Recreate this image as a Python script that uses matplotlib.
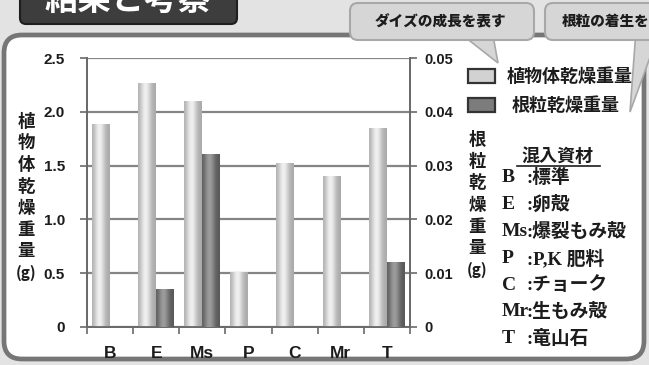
import numpy as np
import matplotlib
matplotlib.use("Agg")
import matplotlib.pyplot as plt
from matplotlib.patches import FancyBboxPatch, Rectangle, Polygon
from matplotlib.ticker import FixedLocator, NullFormatter

plt.rcParams["font.family"] = ["Noto Sans CJK JP", "DejaVu Sans"]

# ---- data -------------------------------------------------------------
categories = ["B", "E", "Ms", "P", "C", "Mr", "T"]
plant_dry_weight = [1.89, 2.27, 2.10, 0.51, 1.52, 1.40, 1.85]          # g
nodule_dry_weight = [0.0, 0.0071, 0.0321, 0.0, 0.0, 0.0, 0.012]       # g
left_ticks = [0, 0.5, 1.0, 1.5, 2.0, 2.5]
left_tick_labels = ["0", "0.5", "1.0", "1.5", "2.0", "2.5"]
right_ticks = [0, 0.01, 0.02, 0.03, 0.04, 0.05]
right_tick_labels = ["0", "0.01", "0.02", "0.03", "0.04", "0.05"]
legend_labels = ["植物体乾燥重量", "根粒乾燥重量"]
left_axis_label = ["植", "物", "体", "乾", "燥", "重", "量", "(g)"]
right_axis_label = ["根", "粒", "乾", "燥", "重", "量", "(g)"]
material_codes = ["B", "E", "Ms", "P", "C", "Mr", "T"]
material_names = ["標準", "卵殻", "爆裂もみ殻", "P,K 肥料", "チョーク", "生もみ殻", "竜山石"]

# ---- styling ----------------------------------------------------------
W, H = 649, 365
PLANT_FACE = "#d2d2d2"
NODULE_FACE = "#7c7c7c"
TXT = "#1c1c1c"
GRID = "#858585"

fig = plt.figure(figsize=(W / 100, H / 100), dpi=100)
fig.patch.set_facecolor("#e3e3e3")

# pixel-space canvas for the poster decoration and side texts
bg = fig.add_axes([0, 0, 1, 1])
bg.set_xlim(0, W)
bg.set_ylim(H, 0)
bg.axis("off")
bg.set_zorder(0)

# white panel with rounded grey frame
bg.add_patch(FancyBboxPatch((4, 35), 640, 324,
                            boxstyle="round,pad=0,rounding_size=18",
                            facecolor="white", edgecolor="#767676", lw=3.4))

# section heading
bg.add_patch(FancyBboxPatch((20, -20), 217, 44,
                            boxstyle="round,pad=0,rounding_size=6",
                            facecolor="#3d3d3d", edgecolor="#1e1e1e", lw=1.5))
bg.text(128, 0, "結果と考察", color="white", fontsize=24, fontweight="bold",
        ha="center", va="center")

# speech-bubble notes
CALLOUT_FACE, CALLOUT_EDGE = "#d6d6d6", "#a8a8a8"
bg.add_patch(Polygon([(456, 30), (492, 30), (498, 63)], closed=True,
                     facecolor=CALLOUT_FACE, edgecolor=CALLOUT_EDGE, lw=1.2, zorder=2))
bg.add_patch(FancyBboxPatch((350, 3), 184, 37, boxstyle="round,pad=0,rounding_size=8",
                            facecolor=CALLOUT_FACE, edgecolor=CALLOUT_EDGE, lw=1.5, zorder=3))
bg.text(440, 22, "ダイズの成長を表す", fontsize=10.5, fontweight="heavy",
        color=TXT, ha="center", va="center", zorder=4)
bg.add_patch(Polygon([(636, 30), (660, 30), (630, 112)], closed=True,
                     facecolor=CALLOUT_FACE, edgecolor=CALLOUT_EDGE, lw=1.2, zorder=2))
bg.add_patch(FancyBboxPatch((545, 3), 130, 37, boxstyle="round,pad=0,rounding_size=8",
                            facecolor=CALLOUT_FACE, edgecolor=CALLOUT_EDGE, lw=1.5, zorder=3))
bg.text(562, 22, "根粒の着生を表す", fontsize=10.5, fontweight="heavy",
        color=TXT, ha="left", va="center", zorder=4, clip_on=True)

# ---- chart ------------------------------------------------------------
x0, x1, y_top, y_bot = 87, 410, 58, 327
ax = fig.add_axes([x0 / W, (H - y_bot) / H, (x1 - x0) / W, (y_bot - y_top) / H])
ax.set_zorder(1)
ax.patch.set_facecolor("white")
ax2 = ax.twinx()
ax2.set_zorder(2)
ax2.patch.set_visible(False)

idx = np.arange(len(categories))
bw = 0.39
plant_bars = ax.bar(idx - 0.2, plant_dry_weight, width=bw, color=PLANT_FACE,
                    edgecolor="none", zorder=3)
nodule_bars = ax2.bar(idx + 0.19, nodule_dry_weight, width=bw, color=NODULE_FACE,
                      edgecolor="none", zorder=3)


def shade(axis, bars, dark, light):
    """Give each bar a cylinder-like horizontal shading."""
    t = np.linspace(0, 1, 80)
    prof = np.exp(-((t - 0.42) / 0.30) ** 2)
    d = np.array(matplotlib.colors.to_rgb(dark))
    l = np.array(matplotlib.colors.to_rgb(light))
    row = d + (l - d) * prof[:, None]
    img = row[None, :, :]
    for b in bars:
        h = b.get_height()
        if h <= 0:
            continue
        im = axis.imshow(img, extent=(b.get_x(), b.get_x() + b.get_width(), 0, h),
                         aspect="auto", interpolation="bilinear", zorder=3.5)
        im.set_clip_path(b)


shade(ax, plant_bars, "#a9a9a9", "#f0f0f0")
shade(ax2, nodule_bars, "#575757", "#9c9c9c")

ax.set_xlim(-0.5, len(categories) - 0.5)
ax.set_ylim(0, 2.5)
ax2.set_ylim(0, 0.05)
ax.set_aspect("auto")
ax2.set_aspect("auto")

# gridlines on the left scale
ax.set_axisbelow(True)
ax.yaxis.grid(True, color=GRID, lw=1.6)
ax.spines["top"].set_visible(False)
ax2.spines["top"].set_visible(False)
for a in (ax, ax2):
    for s in ("left", "right", "bottom"):
        a.spines[s].set_color("#6a6a6a")
        a.spines[s].set_linewidth(1.3)

# y ticks
ax.yaxis.set_major_locator(FixedLocator(left_ticks))
ax.set_yticklabels(left_tick_labels)
ax.tick_params(axis="y", length=5, width=1.2, color="#6a6a6a", pad=11,
               labelsize=11, labelcolor=TXT)
ax2.yaxis.set_major_locator(FixedLocator(right_ticks))
ax2.set_yticklabels(right_tick_labels)
ax2.tick_params(axis="y", length=5, width=1.2, color="#6a6a6a", pad=5,
                labelsize=10.5, labelcolor=TXT)
for lab in ax.get_yticklabels() + ax2.get_yticklabels():
    lab.set_fontweight("bold")
    lab.set_family(["Liberation Sans", "DejaVu Sans"])

# x ticks: labels centred, tick marks at category boundaries
ax.xaxis.set_major_locator(FixedLocator(idx))
ax.set_xticklabels(categories)
ax.xaxis.set_minor_locator(FixedLocator(np.arange(-0.5, len(categories), 1.0)))
ax.xaxis.set_minor_formatter(NullFormatter())
ax.tick_params(axis="x", which="major", length=0, pad=14, labelsize=12.5, labelcolor=TXT)
ax.tick_params(axis="x", which="minor", length=5, width=1.2, color="#6a6a6a")
ax2.tick_params(axis="x", which="both", length=0)
for lab in ax.get_xticklabels():
    lab.set_fontweight("bold")
    lab.set_family(["Liberation Sans", "DejaVu Sans"])

# vertical axis titles
for i, ch in enumerate(left_axis_label):
    bg.text(26, 122 + i * 21.5, ch, fontsize=12.5 if ch != "(g)" else 11,
            fontweight="bold", color=TXT, ha="center", va="center")
for i, ch in enumerate(right_axis_label):
    bg.text(477, 140 + i * 21.7, ch, fontsize=12.5 if ch != "(g)" else 11,
            fontweight="bold", color=TXT, ha="center", va="center")

# legend
for (y, face, label, tx) in [(75.5, PLANT_FACE, legend_labels[0], 507),
                             (104.5, NODULE_FACE, legend_labels[1], 512)]:
    bg.add_patch(Rectangle((468, y - 7), 27, 14, facecolor=face,
                           edgecolor="#333333", lw=1.6))
    bg.text(tx, y + 1, label, fontsize=13, fontweight="bold", color=TXT,
            ha="left", va="center")

# list of mixed-in materials
bg.text(558, 156, "混入資材", fontsize=13, fontweight="bold", color=TXT,
        ha="center", va="center")
bg.plot([517, 600], [166, 166], color=TXT, lw=1.2)
for i, (code, name) in enumerate(zip(material_codes, material_names)):
    y = 178 + i * 26.8
    bg.text(502, y, code, fontsize=14, fontweight="bold", color=TXT,
            family=["Liberation Serif", "DejaVu Serif"], ha="left", va="center")
    bg.text(527, y, ":" + name, fontsize=13.5, fontweight="bold", color=TXT,
            family=["Liberation Serif", "Noto Sans CJK JP"], ha="left", va="center")

fig.savefig("out.png", dpi=100)
